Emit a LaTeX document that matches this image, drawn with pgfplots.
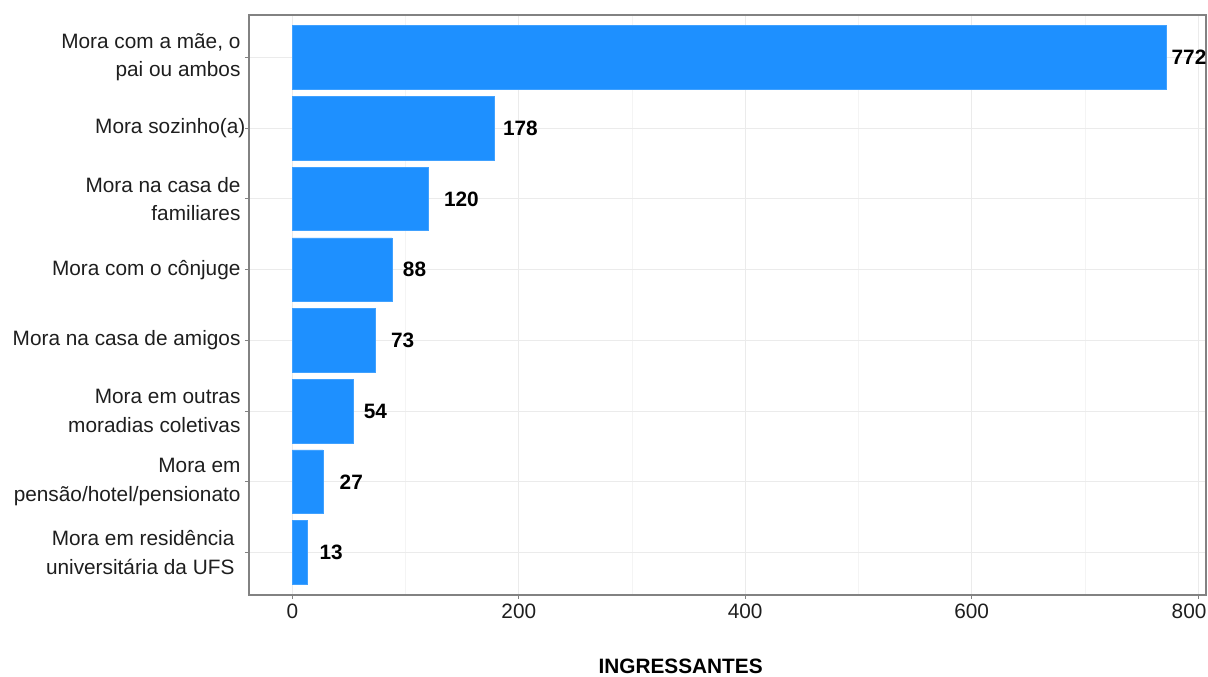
\documentclass[border=0pt]{standalone}
\usepackage{pgfplots}
\pgfplotsset{compat=1.18}
\usepackage{pgfplotstable}
\usepackage{fontspec}
\setmainfont{Liberation Sans}

\definecolor{barblue}{RGB}{30,144,255}
\definecolor{gridmaj}{RGB}{235,235,235}
\definecolor{gridmin}{RGB}{244,244,244}
\definecolor{frame}{RGB}{130,130,130}
\definecolor{txt}{RGB}{30,30,30}

% y: category position (1 = bottom), n: count, dx: gap between bar end and label (pt)
\pgfplotstableread{
y n dx
1 13 12.3
2 27 16.5
3 54 10
4 73 15.7
5 88 10.7
6 120 15.6
7 178 8.9
8 772 5
}\moradia

\begin{document}
\begin{tikzpicture}
\begin{axis}[
  scale only axis,
  width=957pt, height=580pt,
  xmin=-38.3, xmax=807,
  ymin=0.4, ymax=8.6,
  xbar, bar width=0.9,
  axis line style={frame, line width=1.1pt},
  xtick={0,200,400,600,800},
  minor xtick={100,300,500,700},
  xticklabels={0,200,400,600,\hspace*{-18pt}800},
  ytick={1,...,8},
  yticklabels={
    {Mora em residência\kern6pt\\universitária da UFS\kern6pt},
    {Mora em\\pensão/hotel/pensionato},
    {Mora em outras\\moradias coletivas},
    {Mora na casa de amigos},
    {Mora com o cônjuge},
    {Mora na casa de\\familiares},
    {Mora sozinho(a)\kern-5pt},
    {Mora com a mãe, o\\pai ou ambos}},
  grid=both,
  major grid style={gridmaj, line width=1pt},
  minor grid style={gridmin, line width=0.7pt},
  tick align=outside, tick pos=left,
  major tick length=4pt, minor tick length=0pt,
  tick style={frame, line width=0.9pt},
  /pgf/number format/assume math mode=true,
  ticklabel style={font=\fontsize{20.8}{28.5}\selectfont, text=txt},
  yticklabel style={align=right, xshift=-1pt},
  xticklabel style={yshift=-1pt},
  xlabel={INGRESSANTES},
  xlabel style={at={(axis description cs:0.451,0)}, anchor=center,
    yshift=-71pt, font=\fontsize{20.8}{24}\selectfont\bfseries, text=black},
  nodes near coords={\bfseries\pgfmathprintnumber{\pgfplotspointmeta}},
  point meta=x,
  visualization depends on={\thisrow{dx} \as \gap},
  nodes near coords style={font=\fontsize{20.8}{24}\selectfont, text=black,
    anchor=west, inner sep=0pt, xshift=\gap pt},
]
\addplot[fill=barblue, draw=barblue!85!white, line width=0.6pt]
  table[x=n, y=y] {\moradia};
\coordinate (P) at (rel axis cs:0,0);
\end{axis}
\pgfresetboundingbox
\path ([shift={(-249pt,-82pt)}]P) rectangle ([shift={(959pt,595pt)}]P);
\end{tikzpicture}
\end{document}
